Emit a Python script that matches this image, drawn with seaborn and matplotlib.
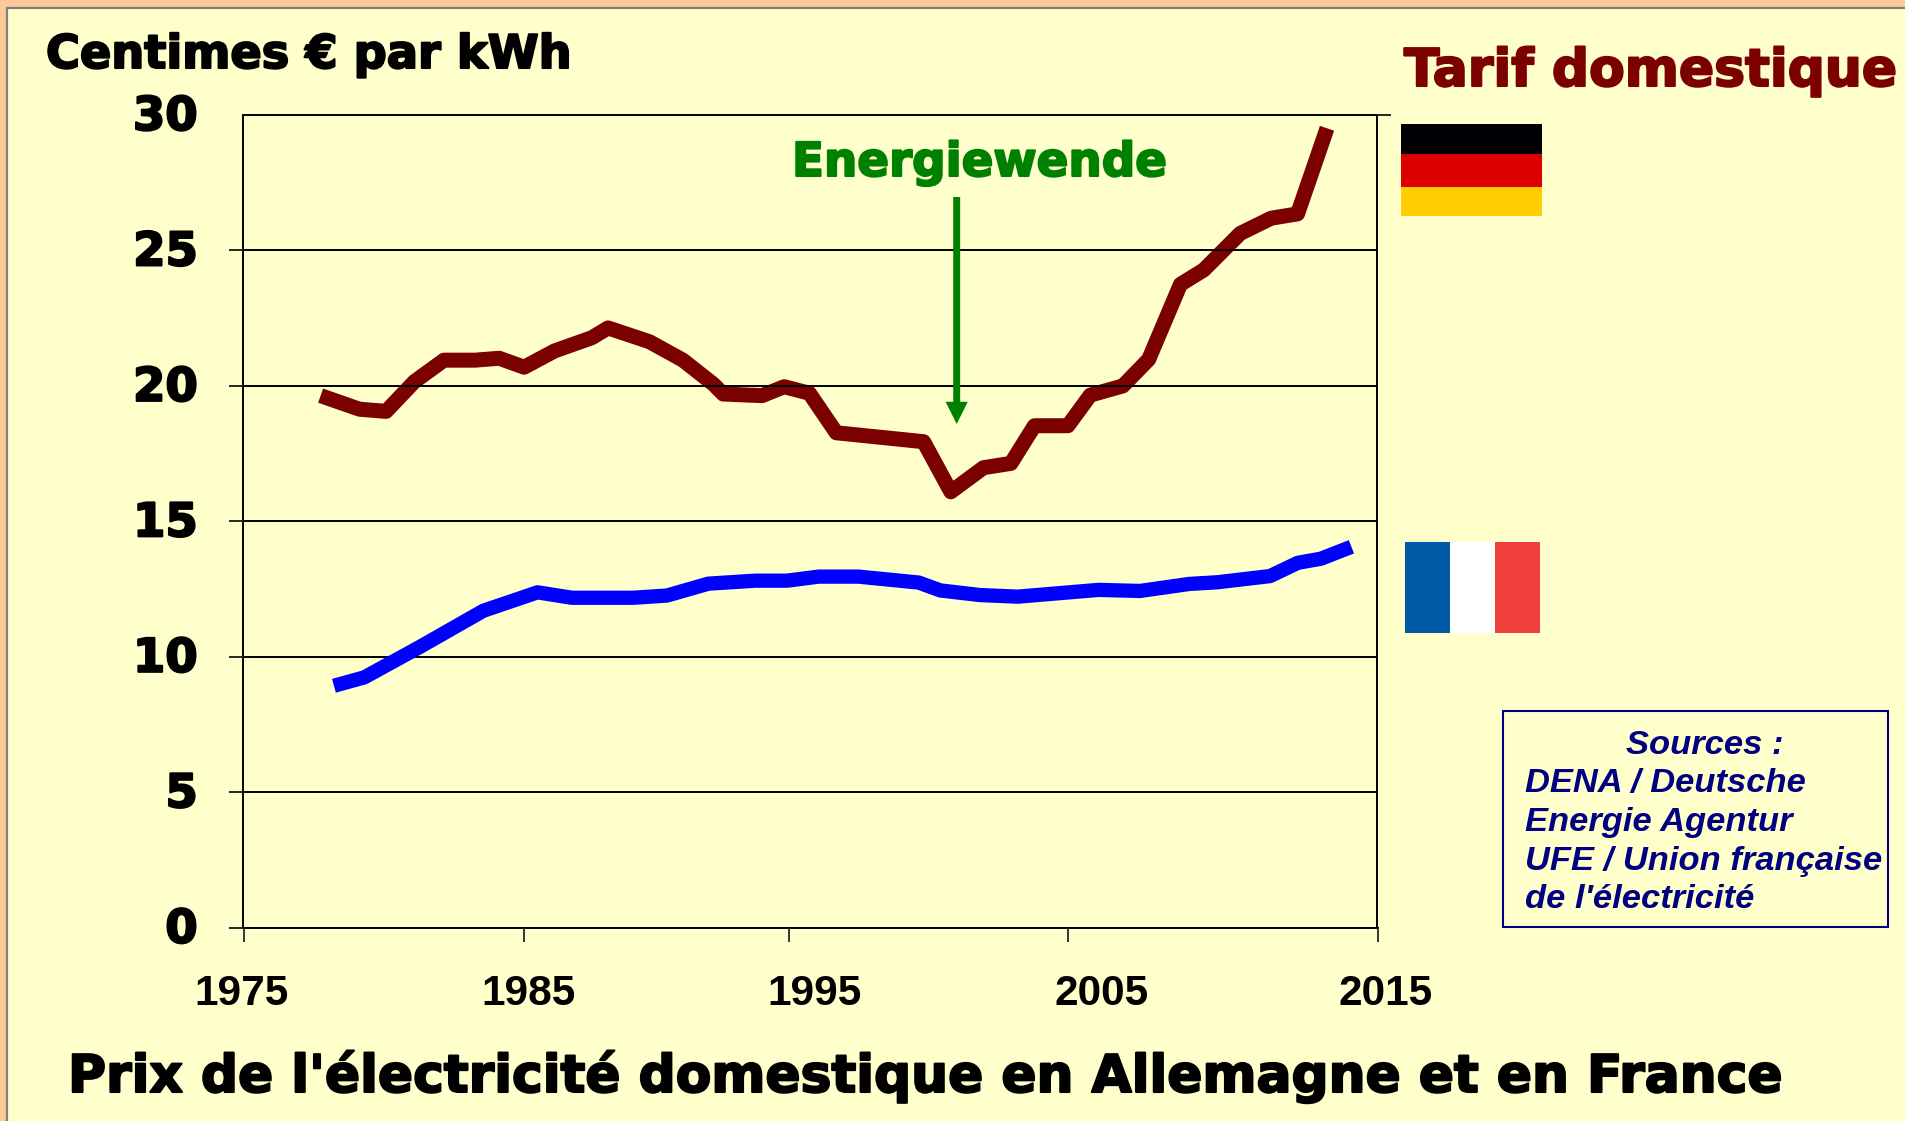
import matplotlib
matplotlib.use("Agg")
import matplotlib.pyplot as plt
import matplotlib.patheffects as pe
from matplotlib.patches import Rectangle
from matplotlib.transforms import ScaledTranslation
import seaborn as sns

# prix allemagne (centimes par kWh)
years_de = [1977.72, 1979.09, 1980.03, 1981.03, 1982.07, 1983.17, 1984.02, 1984.90, 1985.97,
            1987.29, 1987.86, 1989.32, 1990.50, 1991.58, 1991.92, 1993.29, 1994.07, 1994.96,
            1995.91, 1998.99, 1999.95, 2001.10, 2002.07, 2002.90, 2004.08, 2004.87, 2006.02,
            2006.93, 2008.05, 2008.87, 2010.16, 2011.25, 2012.18, 2013.22]
prix_de = [19.64, 19.14, 19.06, 20.16, 20.95, 20.95, 21.02, 20.69, 21.29,
           21.78, 22.14, 21.63, 20.95, 20.06, 19.70, 19.64, 19.97, 19.73,
           18.27, 17.94, 16.09, 16.98, 17.14, 18.53, 18.53, 19.66, 20.00,
           20.98, 23.75, 24.28, 25.63, 26.19, 26.35, 29.51]

# prix france
years_fr = [1978.19, 1979.26, 1981.23, 1983.46, 1985.37, 1986.58, 1988.75, 1989.93, 1991.40,
            1993.05, 1994.17, 1995.29, 1996.69, 1998.82, 1999.58, 2000.97, 2002.31, 2005.16,
            2006.62, 2008.36, 2009.34, 2011.21, 2012.19, 2013.00, 2014.08]
prix_fr = [8.93, 9.24, 10.37, 11.70, 12.38, 12.18, 12.18, 12.26, 12.70,
           12.81, 12.81, 12.96, 12.96, 12.74, 12.45, 12.28, 12.22, 12.47,
           12.43, 12.69, 12.75, 12.98, 13.47, 13.62, 14.06]

y_ticks = [0, 5, 10, 15, 20, 25, 30]
x_tick_pos = [1975, 1984.9, 1994.25, 2004.09, 2015]
x_tick_labels = ["1975", "1985", "1995", "2005", "2015"]
x_label_shift = [-2, 4, 25, 33, 8]  # les etiquettes ne sont pas centrees sur les ticks

W, H, DPI = 1906, 1121, 100
BLACK_FONT = "DejaVu Sans"
ARIAL = "Liberation Sans"


def fx(x):
    return x / W


def fy(y):
    return 1 - y / H


def px_rect(x0, y0, x1, y1, **kw):
    return Rectangle((fx(x0), fy(y1)), (x1 - x0) / W, (y1 - y0) / H,
                     transform=fig.transFigure, **kw)


def heavy(color, w=1.5):
    # pas d'Arial Black ici : on epaissit le gras
    return [pe.withStroke(linewidth=w, foreground=color)]


sns.set_theme(style="ticks", rc={"axes.linewidth": 1.4, "xtick.major.width": 1.3,
                                 "ytick.major.width": 1.4, "axes.edgecolor": "black"})

fig = plt.figure(figsize=(W / DPI, H / DPI), dpi=DPI, facecolor="#FFC999")
fig.add_artist(px_rect(7.5, 7.5, W + 20, H + 20, facecolor="#FFFFCC", edgecolor="#808080",
                       linewidth=1.6, zorder=-1))

ax = fig.add_axes([fx(243.5), fy(927.7), (1377.5 - 243.5) / W, (927.7 - 115) / H])
ax.patch.set_alpha(0)

sns.lineplot(x=years_de, y=prix_de, color="#7B0000", linewidth=10.8, ax=ax, zorder=2,
             solid_capstyle="butt", solid_joinstyle="round")
sns.lineplot(x=years_fr, y=prix_fr, color="#0000FF", linewidth=10.3, ax=ax, zorder=3,
             solid_capstyle="butt", solid_joinstyle="round")

ax.set_xlim(1975, 2015)
ax.set_ylim(0, 30)
ax.set_axisbelow(False)
ax.grid(axis="y", color="black", linewidth=1.4)
ax.set_xlabel("")
ax.set_ylabel("")

ax.set_xticks(x_tick_pos)
ax.set_xticklabels(x_tick_labels, fontfamily=ARIAL, fontweight="bold", fontsize=30.5, color="black")
ax.tick_params(axis="x", length=10, pad=23)
for lab, dx in zip(ax.get_xticklabels(), x_label_shift):
    lab.set_transform(lab.get_transform() + ScaledTranslation(dx / DPI, 0, fig.dpi_scale_trans))

ax.set_yticks(y_ticks)
ax.set_yticklabels([str(v) for v in y_ticks], fontfamily=BLACK_FONT, fontweight="bold",
                   fontsize=33.5, color="black")
ax.tick_params(axis="y", length=10, pad=23, right=True)
for lab in ax.get_yticklabels():
    lab.set_path_effects(heavy("black"))
    lab.set_transform(lab.get_transform() + ScaledTranslation(0, 2.5 / DPI, fig.dpi_scale_trans))
yt = ax.yaxis.get_major_ticks()
for t in yt[:-1]:
    t.tick2line.set_visible(False)
yt[-1].tick1line.set_visible(False)

# textes
fig.text(fx(46), fy(68), "Centimes € par kWh", fontfamily=BLACK_FONT, fontweight="bold",
         fontsize=33.3, color="black", va="baseline", path_effects=heavy("black"))
fig.text(fx(1404), fy(86), "Tarif domestique", fontfamily=BLACK_FONT, fontweight="bold",
         fontsize=37.4, color="#7B0000", va="baseline", path_effects=heavy("#7B0000"))
fig.text(fx(792), fy(176), "Energiewende", fontfamily=BLACK_FONT, fontweight="bold",
         fontsize=33.7, color="#008000", va="baseline", path_effects=heavy("#008000"))
fig.text(fx(68), fy(1092), "Prix de l'électricité domestique en Allemagne et en France",
         fontfamily=BLACK_FONT, fontweight="bold", fontsize=37.35, color="black", va="baseline",
         path_effects=heavy("black"))

# fleche
ax.annotate("", xy=(fx(956.7), fy(424)), xytext=(fx(956.7), fy(197)),
            xycoords="figure fraction", textcoords="figure fraction", zorder=4,
            arrowprops=dict(facecolor="#008000", edgecolor="none", width=5, headwidth=16,
                            headlength=16, shrink=0))

# drapeaux
for y0, y1, c in [(124, 154, "#000004"), (154, 187, "#DD0000"), (187, 216, "#FFCE00")]:
    fig.add_artist(px_rect(1401, y0, 1542, y1, facecolor=c, edgecolor="none"))
for x0, x1, c in [(1405, 1450, "#005BA6"), (1450, 1495, "#FFFFFF"), (1495, 1540, "#EE3F3A")]:
    fig.add_artist(px_rect(x0, 542, x1, 633, facecolor=c, edgecolor="none"))

# cadre sources
fig.add_artist(px_rect(1503, 711, 1888, 927, facecolor="none", edgecolor="#000080", linewidth=1.5))
source_lines = [(1626, 754, "Sources :"), (1525, 792, "DENA / Deutsche"),
                (1525, 831, "Energie Agentur"), (1525, 870, "UFE / Union française"),
                (1525, 908, "de l'électricité")]
for x, y, s in source_lines:
    fig.text(fx(x), fy(y), s, fontfamily=ARIAL, fontweight="bold", fontstyle="italic",
             fontsize=24.8, color="#000080", va="baseline")

fig.savefig("out.png", dpi=DPI, facecolor=fig.get_facecolor())
